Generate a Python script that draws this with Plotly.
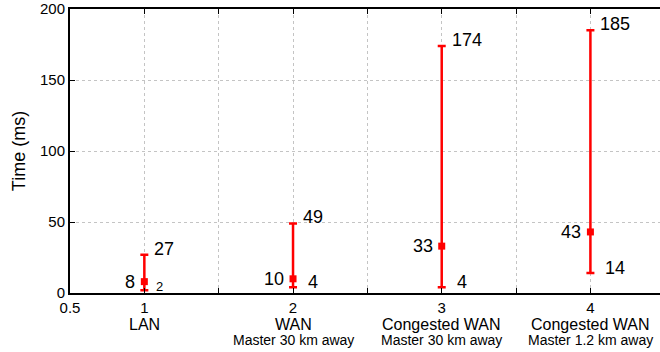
import plotly.graph_objects as go

# Response-time summary per network setup
positions = [1, 2, 3, 4]
categories = ["LAN", "WAN", "Congested WAN", "Congested WAN"]
subtitles = ["", "Master 30 km away", "Master 30 km away", "Master 1.2 km away"]
min_ms = [2, 4, 4, 14]
mean_ms = [8, 10, 33, 43]
max_ms = [27, 49, 174, 185]

x_tickvals = [0.5, 1, 1.5, 2, 2.5, 3, 3.5, 4]
x_ticktext = ["0.5", "1", "", "2", "", "3", "", "4"]
y_tickvals = [0, 50, 100, 150, 200]

RED = "#ff0000"
FONT = "Arial"

fig = go.Figure()
fig.add_trace(go.Scatter(
    x=positions,
    y=mean_ms,
    mode="markers",
    marker=dict(symbol="square", size=7, color=RED),
    error_y=dict(
        type="data",
        symmetric=False,
        array=[hi - m for hi, m in zip(max_ms, mean_ms)],
        arrayminus=[m - lo for m, lo in zip(mean_ms, min_ms)],
        color=RED,
        thickness=2.5,
        width=4,
    ),
    showlegend=False,
    hoverinfo="skip",
))

annotations = []
for i, xp in enumerate(positions):
    # max value, to the right of the upper cap
    annotations.append(dict(x=xp, y=max_ms[i], xref="x", yref="y", text=str(max_ms[i]),
                            showarrow=False, xanchor="left", yanchor="middle",
                            xshift=8, yshift=6, font=dict(size=18, color="black", family=FONT)))
    # mean value, to the left of the marker
    annotations.append(dict(x=xp, y=mean_ms[i], xref="x", yref="y", text=str(mean_ms[i]),
                            showarrow=False, xanchor="right", yanchor="middle",
                            xshift=-7, yshift=0, font=dict(size=18, color="black", family=FONT)))
    # min value, to the right of the lower cap
    annotations.append(dict(x=xp, y=min_ms[i], xref="x", yref="y", text=str(min_ms[i]),
                            showarrow=False, xanchor="left", yanchor="middle",
                            xshift=10 if i == 0 else 13, yshift=4 if i == 0 else 5,
                            font=dict(size=13 if i == 0 else 18, color="black", family=FONT)))
    # category names under the tick numbers
    annotations.append(dict(x=xp, y=0, xref="x", yref="y", text=categories[i],
                            showarrow=False, xanchor="center", yanchor="middle",
                            yshift=-31, font=dict(size=16, color="black", family=FONT)))
    if subtitles[i]:
        annotations.append(dict(x=xp, y=0, xref="x", yref="y", text=subtitles[i],
                                showarrow=False, xanchor="center", yanchor="middle",
                                yshift=-47, font=dict(size=14, color="black", family=FONT)))

fig.update_layout(
    width=660,
    height=352,
    margin=dict(l=70, r=0, t=9, b=59),
    paper_bgcolor="white",
    plot_bgcolor="white",
    font=dict(family=FONT, color="black"),
    annotations=annotations,
    xaxis=dict(
        range=[0.5, 4.468],
        tickvals=x_tickvals,
        ticktext=x_ticktext,
        ticks="inside",
        ticklen=5,
        tickcolor="black",
        tickwidth=1,
        showline=True,
        linecolor="black",
        linewidth=2,
        mirror="ticks",
        showgrid=True,
        gridcolor="#c4c4c4",
        griddash="dot",
        gridwidth=1,
        zeroline=False,
        ticklabelstandoff=0,
        tickfont=dict(size=15, color="black", family=FONT),
    ),
    yaxis=dict(
        range=[0, 200],
        tickvals=y_tickvals,
        ticks="inside",
        ticklen=5,
        tickcolor="black",
        tickwidth=1,
        showline=True,
        linecolor="black",
        linewidth=2,
        showgrid=True,
        gridcolor="#c4c4c4",
        griddash="dot",
        gridwidth=1,
        zeroline=False,
        ticklabelstandoff=0,
        tickfont=dict(size=15, color="black", family=FONT),
        title=dict(text="Time (ms)", font=dict(size=18, color="black", family=FONT), standoff=10),
    ),
)

fig.write_html("out.html")
